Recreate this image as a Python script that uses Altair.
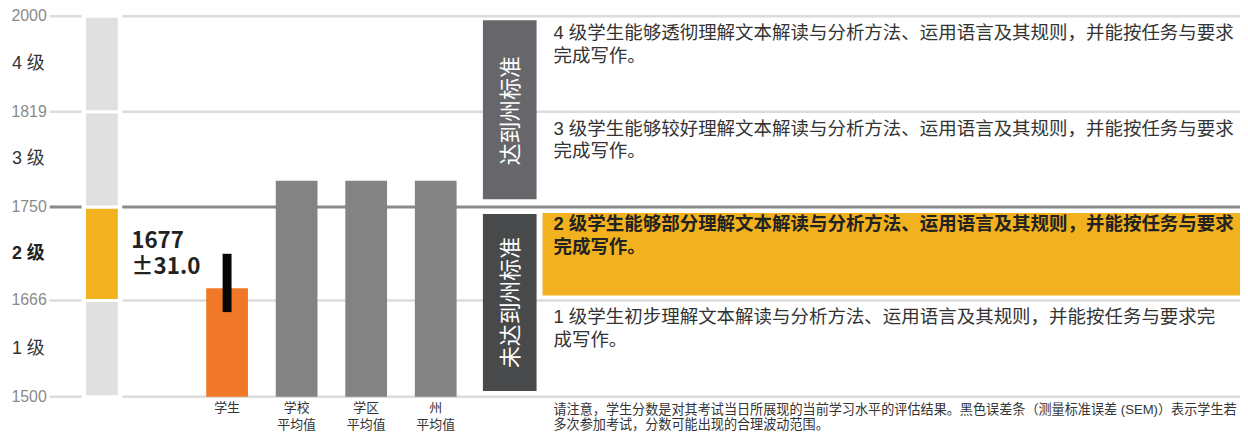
import altair as alt
import pandas as pd

# ---- data ----
level_names = ["1 级", "2 级", "3 级", "4 级"]
level_lo = [1500, 1666, 1750, 1819]
level_hi = [1666, 1750, 1819, 2000]
level_desc = [
    "1 级学生初步理解文本解读与分析方法、运用语言及其规则，并能按任务与要求完\n成写作。",
    "2 级学生能够部分理解文本解读与分析方法、运用语言及其规则，并能按任务与要求\n完成写作。",
    "3 级学生能够较好理解文本解读与分析方法、运用语言及其规则，并能按任务与要求\n完成写作。",
    "4 级学生能够透彻理解文本解读与分析方法、运用语言及其规则，并能按任务与要求\n完成写作。",
]
student_level = "2 级"
tick_values = [1500, 1666, 1750, 1819, 2000]
standard_cut = 1750

bar_labels = ["学生", "学校\n平均值", "学区\n平均值", "州\n平均值"]
bar_values = [1677, 1769, 1769, 1769]
student_score = 1677
student_sem = 31.0

box_labels = ["达到州标准", "未达到州标准"]
footnote = ("请注意，学生分数是对其考试当日所展现的当前学习水平的评估结果。黑色误差条（测量标准误差 (SEM)）表示学生若\n"
            "多次参加考试，分数可能出现的合理波动范围。")

# ---- layout ----
W, H = 1198, 383
FONT = "Liberation Sans, Noto Sans CJK SC"
CJK = "Noto Sans CJK SC"
YELLOW = "#F2B11E"
ORANGE = "#F07828"
GRAY_BAR = "#838383"
BAND_GRAY = "#E0E0E0"

yscale = alt.Scale(domain=tick_values, range=[H, 286, 192, 96, 0])
xscale = alt.Scale(domain=[0, W], range=[0, W])

levels = pd.DataFrame({
    "name": level_names, "lo": level_lo, "hi": level_hi, "desc": level_desc,
})
levels["mid"] = (levels["lo"] + levels["hi"]) / 2
levels["fill"] = [YELLOW if n == student_level else BAND_GRAY for n in level_names]
lv_bold = levels[levels["name"] == student_level]
lv_norm = levels[levels["name"] != student_level]

grid = pd.DataFrame({"v": tick_values})
grid["t"] = grid["v"].astype(str)
grid_light = grid[grid["v"] != standard_cut]
grid_dark = grid[grid["v"] == standard_cut]

step, c0, hw = 70, 178.5, 21
bars = pd.DataFrame({"label": bar_labels, "value": bar_values})
bars["cx"] = [c0 + i * step for i in range(len(bars))]
bars["x0"] = bars["cx"] - hw
bars["x1"] = bars["cx"] + hw
bars["base"] = tick_values[0]
bars["fill"] = [ORANGE] + [GRAY_BAR] * (len(bars) - 1)

err = pd.DataFrame({"cx": [bars["cx"][0]], "lo": [student_score - student_sem],
                    "hi": [student_score + student_sem]})
annot = pd.DataFrame({"t": [f"{student_score}\n±{student_sem:.1f}"]})

tick_text = alt.Chart(grid).mark_text(
    align="right", baseline="middle", fontSize=16, font=FONT, color="#8a8a8a").encode(
    y=alt.Y("v:Q", scale=yscale, axis=None), x=alt.value(-3), text="t:N")

rule_light = alt.Chart(grid_light).mark_rule(color="#DCDCDC", strokeWidth=2.5).encode(
    y=alt.Y("v:Q", scale=yscale, axis=None), x=alt.value(0), x2=alt.value(W))
rule_dark = alt.Chart(grid_dark).mark_rule(color="#8A8A8A", strokeWidth=3).encode(
    y=alt.Y("v:Q", scale=yscale, axis=None), x=alt.value(0), x2=alt.value(W))

col_back = alt.Chart(pd.DataFrame({"lo": [tick_values[0]], "hi": [tick_values[-1]]})).mark_rect(
    color="white", yOffset=-2, y2Offset=2).encode(
    y=alt.Y("hi:Q", scale=yscale, axis=None), y2="lo:Q",
    x=alt.value(32), x2=alt.value(73))

col_bands = alt.Chart(levels).mark_rect(stroke="white", strokeWidth=3).encode(
    y=alt.Y("hi:Q", scale=yscale, axis=None), y2="lo:Q",
    x=alt.value(35), x2=alt.value(70),
    fill=alt.Fill("fill:N", scale=None))

def level_text(df, weight, color):
    return alt.Chart(df).mark_text(align="right", baseline="middle", fontSize=18,
                                   font=FONT, color=color, fontWeight=weight).encode(
        y=alt.Y("mid:Q", scale=yscale, axis=None), x=alt.value(-5), text="name:N")

bar_layer = alt.Chart(bars).mark_rect().encode(
    x=alt.X("x0:Q", scale=xscale, axis=None), x2="x1:Q",
    y=alt.Y("value:Q", scale=yscale, axis=None), y2="base:Q",
    fill=alt.Fill("fill:N", scale=None))

err_layer = alt.Chart(err).mark_rule(color="#080808", strokeWidth=9).encode(
    x=alt.X("cx:Q", scale=xscale, axis=None),
    y=alt.Y("hi:Q", scale=yscale, axis=None), y2="lo:Q")

annot_layer = alt.Chart(annot).mark_text(
    align="left", baseline="top", fontSize=22.5, fontWeight="bold",
    font="Noto Sans CJK JP, Liberation Sans",
    color="#222222", lineBreak="\n", lineHeight=26).encode(
    x=alt.value(82), y=alt.value(215), text="t:N")

cat_labels = alt.Chart(bars).mark_text(
    align="center", baseline="top", fontSize=13, font=CJK, color="#333333",
    lineBreak="\n", lineHeight=17).encode(
    x=alt.X("cx:Q", scale=xscale, axis=None), y=alt.value(H + 5), text="label:N")

boxes = pd.DataFrame({
    "label": box_labels,
    "hi": [tick_values[-1], standard_cut], "lo": [standard_cut, tick_values[0]],
    "fill": ["#67676B", "#48494B"],
    "py": [95, 288],
})
box_rect1 = alt.Chart(boxes.iloc[[0]]).mark_rect(yOffset=4, y2Offset=-8).encode(
    y=alt.Y("hi:Q", scale=yscale, axis=None), y2="lo:Q",
    x=alt.value(436), x2=alt.value(490), fill=alt.Fill("fill:N", scale=None))
box_rect2 = alt.Chart(boxes.iloc[[1]]).mark_rect(yOffset=7, y2Offset=-6).encode(
    y=alt.Y("hi:Q", scale=yscale, axis=None), y2="lo:Q",
    x=alt.value(436), x2=alt.value(490), fill=alt.Fill("fill:N", scale=None))
box_text = alt.Chart(boxes).mark_text(
    angle=270, align="center", baseline="middle", fontSize=22, font=CJK,
    color="white").encode(
    x=alt.value(464), y=alt.Y("py:Q", scale=None), text="label:N")

highlight = alt.Chart(lv_bold).mark_rect(color=YELLOW, yOffset=6, y2Offset=-5).encode(
    y=alt.Y("hi:Q", scale=yscale, axis=None), y2="lo:Q",
    x=alt.value(496), x2=alt.value(W))

def desc_text(df, weight, color):
    return alt.Chart(df).mark_text(align="left", baseline="top", fontSize=18.6, font=FONT,
                                   lineBreak="\n", lineHeight=23, dy=8,
                                   fontWeight=weight, color=color).encode(
        x=alt.value(507), y=alt.Y("hi:Q", scale=yscale, axis=None), text="desc:N")

foot = alt.Chart(pd.DataFrame({"t": [footnote]})).mark_text(
    align="left", baseline="top", fontSize=13.2, font=FONT, color="#333333",
    lineBreak="\n", lineHeight=15).encode(
    x=alt.value(507), y=alt.value(H + 7), text="t:N")

chart = alt.layer(
    rule_light, rule_dark, tick_text, col_back, col_bands,
    level_text(lv_norm, "normal", "#333333"), level_text(lv_bold, "bold", "#222222"),
    bar_layer, err_layer, annot_layer, cat_labels,
    box_rect1, box_rect2, box_text, highlight,
    desc_text(lv_norm, "normal", "#333333"), desc_text(lv_bold, "bold", "#222222"),
    foot,
).properties(
    width=W, height=H,
    autosize=alt.AutoSizeParams(type="none"),
    padding={"left": 42, "top": 7, "right": 0, "bottom": 38},
).configure_view(stroke=None)

chart.save("out.html", embed_options={"renderer": "svg", "actions": False})
